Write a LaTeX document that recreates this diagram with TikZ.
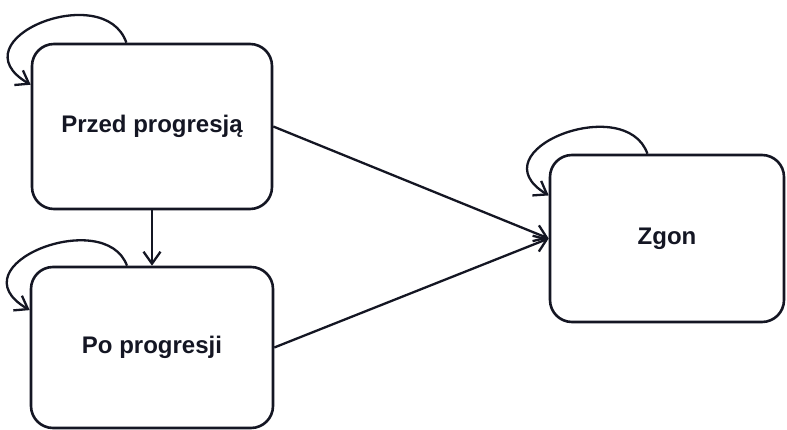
\documentclass[tikz,border=0pt]{standalone}
\usepackage{fontspec}
\setmainfont{Liberation Sans}
\usetikzlibrary{arrows.meta}
\definecolor{ink}{RGB}{20,22,35}

\begin{document}
\begin{tikzpicture}[x=1pt, y=1pt,
		stan/.style={draw=ink, line width=2.6pt, rounded corners=22pt, fill=white, inner sep=0pt, font=\fontsize{24}{28}\selectfont\bfseries, text=ink},
		przejscie/.style={draw=ink, line width=2.3pt, -{Straight Barb[length=12pt, width=17pt, line width=2.3pt]}}]
				\useasboundingbox[fill=white] (0,0) rectangle (787,-430);
				\node[stan, minimum width=240pt, minimum height=165pt] (przed) at (152,-126.5) {Przed progresją};
				\node[stan, minimum width=242pt, minimum height=161pt] (po) at (152,-347.5) {Po progresji};
				\node[stan, minimum width=234pt, minimum height=167pt] (zgon) at (667,-238.5) {Zgon};
				
				\draw[przejscie] (przed.107) .. controls +(-22,64) and +(-77,45) .. (przed.161);
				\draw[przejscie] (po.107) .. controls +(-22,60) and +(-77,45) .. (po.163.6);
				\draw[przejscie] (zgon.103.5) .. controls +(-22,62) and +(-74,45) .. (zgon.160.9);
				
				\draw[przejscie] (przed.south) -- (po.north);
				\draw[przejscie] (przed.east) -- (zgon.west);
				\draw[przejscie] (po.east) -- (zgon.west);
			\end{tikzpicture}
\end{document}
